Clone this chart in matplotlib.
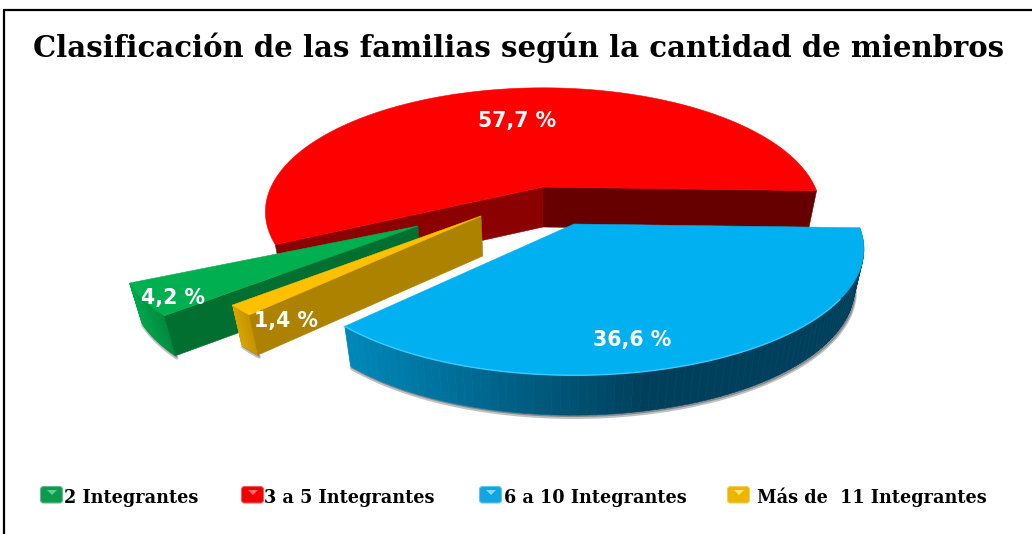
import numpy as np
import matplotlib
matplotlib.use("Agg")
import matplotlib.pyplot as plt
from matplotlib.patches import Polygon, FancyBboxPatch

# ---- data ----
title = "Clasificación de las familias según la cantidad de mienbros"
categories = ["2 Integrantes", "3 a 5 Integrantes", "6 a 10 Integrantes", "Más de  11 Integrantes"]
values = [4.2, 57.7, 36.6, 1.4]

# ---- layout / style ----
W, H = 1032, 534
START = 221.3      # degrees, going clockwise
PERSP = 0.2
DEPTH = 40
SHRINK = 0.97
SHRINK_X0 = 540
LAYOUT = [
    dict(c=(418, 226), R=293, Rq=118, top="#00B050", wall="#006F2F", rim=("#00A84C", "#008A3E")),
    dict(c=(543, 187), R=272, Rq=119, top="#FF0000", wall="#660000", wall2="#8B0000"),
    dict(c=(574, 224), R=284, Rq=121, top="#00B0F0", rim=("#0086B8", "#00405C")),
    dict(c=(481, 216), R=287, Rq=117, top="#FFC000", wall="#AD8200", rim=("#D8A400", "#C49400")),
]
LABEL_POS = [(173, 298), (517, 121), (632, 340), (286, 321)]
ICON_X = [40, 241, 479, 727]
TEXT_X = [64, 264, 504, 757]
ICON_COL = [("#0B9A4E", "#5FD08F"), ("#F00000", "#FF6A6A"), ("#12A5E2", "#7FDCFF"), ("#EDB400", "#FFE680")]

SERIF = "DejaVu Serif"


def proj(theta, s):
    t = np.radians(theta)
    X, Y = np.cos(t), np.sin(t)
    w = 1 + PERSP * Y
    return s["c"][0] + s["R"] * X / w, s["c"][1] - s["Rq"] * Y / w


def drop(x, y):
    return SHRINK_X0 + (x - SHRINK_X0) * SHRINK, y + DEPTH


def mix(c1, c2, f):
    a, b = np.array(matplotlib.colors.to_rgb(c1)), np.array(matplotlib.colors.to_rgb(c2))
    return tuple(a + (b - a) * f)


fig = plt.figure(figsize=(W / 100, H / 100), dpi=100)
ax = fig.add_axes([0, 0, 1, 1])
ax.set_xlim(0, W)
ax.set_ylim(H, 0)
ax.axis("off")

# frame
ax.plot([3.5, 3.5, W + 2], [H + 2, 9.5, 9.5], color="black", lw=1.6, solid_joinstyle="miter", zorder=1)

# angles from the values
total = sum(values)
ends = START - np.cumsum(values) * 360.0 / total
starts = np.r_[START, ends[:-1]]


def wall(s, theta, color, z):
    x0, y0 = s["c"]
    x1, y1 = proj(theta, s)
    pts = [(x0, y0), (x1, y1), drop(x1, y1), drop(x0, y0)]
    ax.add_patch(Polygon(pts, closed=True, fc=color, ec=color, lw=0.4, zorder=z))


def rim(s, t0, t1, c0, c1, z, xr):
    th = np.linspace(t0, t1, 90)
    xs, ys = proj(th, s)
    bx, by = drop(xs, ys)
    ax.plot(bx + 1, by + 2, color="#777777", alpha=0.45, lw=2.5, zorder=z - 0.1, solid_capstyle="round")
    ax.plot(bx + 1, by + 1, color="#555555", alpha=0.5, lw=1.2, zorder=z - 0.1, solid_capstyle="round")
    for i in range(len(th) - 1):
        f = np.clip((xs[i] - xr[0]) / (xr[1] - xr[0]), 0, 1)
        col = mix(c0, c1, f)
        pts = [(xs[i], ys[i]), (xs[i + 1], ys[i + 1]), (bx[i + 1], by[i + 1]), (bx[i], by[i])]
        ax.add_patch(Polygon(pts, closed=True, fc=col, ec=col, lw=0.5, zorder=z))


def top(s, t0, t1, z):
    th = np.linspace(t0, t1, 200)
    xs, ys = proj(th, s)
    pts = [s["c"]] + list(zip(xs, ys))
    ax.add_patch(Polygon(pts, closed=True, fc=s["top"], ec=s["top"], lw=0.4, zorder=z))


# red slice
s = LAYOUT[1]
wall(s, ends[1], s["wall"], 2)
wall(s, starts[1], s["wall2"], 2.1)
top(s, starts[1], ends[1], 2.2)

# green slice
s = LAYOUT[0]
rim(s, ends[0], starts[0], *s["rim"], 3, (130, 165))
wall(s, starts[0], s["wall"], 3.1)
top(s, starts[0], ends[0], 3.2)

# yellow slice
s = LAYOUT[3]
yt0, yt1 = starts[3] + 360, ends[3] + 360
rim(s, yt1, yt0, *s["rim"], 4, (233, 250))
wall(s, yt0, s["wall"], 4.1)
top(s, yt0, yt1, 4.2)

# blue slice
s = LAYOUT[2]
bt0, bt1 = ends[2] + 360, starts[2] + 360
rim(s, bt0, bt1, *s["rim"], 5, (350, 640))
top(s, bt0, bt1, 5.2)
th = np.linspace(bt0, bt0 + 100, 120)
ax.plot(*proj(th, s), color="#38CCFF", lw=1.0, zorder=5.3)

# value labels
for v, (x, y) in zip(values, LABEL_POS):
    ax.text(x, y, f"{v:.1f} %".replace(".", ","), color="white", fontsize=14.8,
            fontweight="bold", family="DejaVu Sans", ha="center", va="center", zorder=8)

# title
ax.text(33, 57, title, family=SERIF, fontweight="bold", fontsize=21.0, color="black",
        ha="left", va="baseline", zorder=8)

# legend
for name, ix, tx, (c, lt) in zip(categories, ICON_X, TEXT_X, ICON_COL):
    ax.add_patch(FancyBboxPatch((ix + 2, 488), 19, 13.5, boxstyle="round,pad=1.5,rounding_size=3",
                                fc=c, ec=mix(c, "white", 0.35), lw=0.8, zorder=6))
    ax.add_patch(Polygon([(ix + 7, 490), (ix + 17, 490), (ix + 12, 495)], closed=True,
                         fc=lt, ec="none", zorder=6.1))
    ax.text(tx, 503, name, family=SERIF, fontweight="bold", fontsize=12.7, color="black",
            ha="left", va="baseline", zorder=8)

fig.savefig("out.png", dpi=100, facecolor="white")
